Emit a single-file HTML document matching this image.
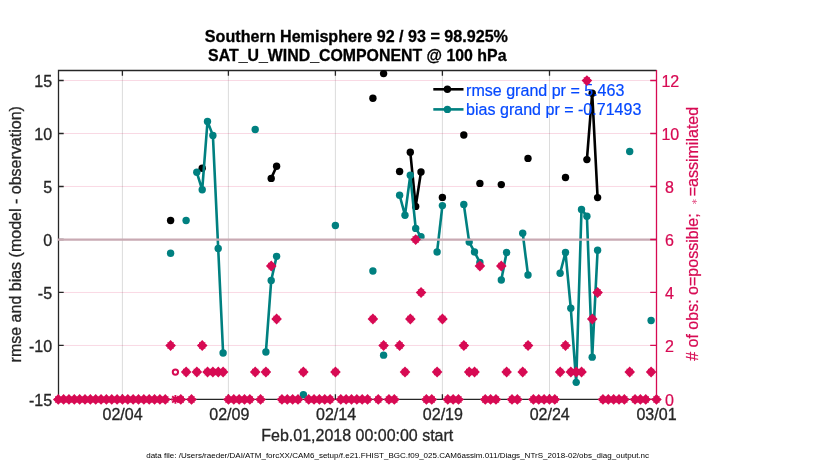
<!DOCTYPE html>
<html lang="en">
<head>
<meta charset="utf-8">
<title>SAT_U_WIND_COMPONENT rmse and bias evolution</title>
<style>
html,body{margin:0;padding:0;background:#fff;}
body{width:830px;height:470px;overflow:hidden;}
svg{display:block;}
text{font-family:"Liberation Sans",Arial,Helvetica,sans-serif;font-size:16px;fill:#262626;stroke:#262626;stroke-width:0.3px;}
.t{font-size:16.05px;}
.b{font-weight:bold;fill:#000;stroke:#000;stroke-width:0.3px;}
.c{fill:#d70a53;stroke:#d70a53;stroke-width:0.22px;}
.l{fill:#0549ff;stroke:#0549ff;font-size:16.05px;stroke-width:0.2px;}
.s{font-size:8.035px;fill:#000;stroke:none;}
</style>
</head>
<body>
<svg width="830" height="470" viewBox="0 0 830 470">
<rect x="0" y="0" width="830" height="470" fill="#fff"/>
<g transform="scale(1,0.9999)">
<g stroke="#dcdcdc" stroke-width="1"><line x1="122.4" y1="70.5" x2="122.4" y2="399.4"/><line x1="228.4" y1="70.5" x2="228.4" y2="399.4"/><line x1="335.4" y1="70.5" x2="335.4" y2="399.4"/><line x1="442.4" y1="70.5" x2="442.4" y2="399.4"/><line x1="549.5" y1="70.5" x2="549.5" y2="399.4"/></g>
<g stroke="#d70a53" stroke-opacity="0.16" stroke-width="1"><line x1="58.5" y1="345.5" x2="656.5" y2="345.5"/><line x1="58.5" y1="292.5" x2="656.5" y2="292.5"/><line x1="58.5" y1="239.5" x2="656.5" y2="239.5"/><line x1="58.5" y1="186.5" x2="656.5" y2="186.5"/><line x1="58.5" y1="133.5" x2="656.5" y2="133.5"/><line x1="58.5" y1="80.5" x2="656.5" y2="80.5"/></g>
<path d="M656.5,70.5 L58.5,70.5 L58.5,399.4 M58.5,399.4 L656.5,399.4" fill="none" stroke="#262626" stroke-width="1.3"/>
<path d="M58.5,399.4 h5.2 M58.5,345.5 h5.2 M58.5,292.5 h5.2 M58.5,239.5 h5.2 M58.5,186.5 h5.2 M58.5,133.5 h5.2 M58.5,80.5 h5.2 M122.4,399.4 v-5.2 M122.4,70.5 v5.2 M228.4,399.4 v-5.2 M228.4,70.5 v5.2 M335.4,399.4 v-5.2 M335.4,70.5 v5.2 M442.4,399.4 v-5.2 M442.4,70.5 v5.2 M549.5,399.4 v-5.2 M549.5,70.5 v5.2" fill="none" stroke="#262626" stroke-width="1.3"/>
<polyline points="271.2,178.4 276.6,166.3" fill="none" stroke="#000" stroke-width="2.6" stroke-linejoin="round"/>
<polyline points="410.3,152.3 415.7,206.4 421.0,172.0" fill="none" stroke="#000" stroke-width="2.6" stroke-linejoin="round"/>
<polyline points="586.9,159.6 592.2,93.2 597.6,197.6" fill="none" stroke="#000" stroke-width="2.6" stroke-linejoin="round"/>
<circle cx="170.6" cy="220.5" r="3.7" fill="#000"/>
<circle cx="202.2" cy="168.2" r="3.7" fill="#000"/>
<circle cx="271.2" cy="178.4" r="3.7" fill="#000"/>
<circle cx="276.6" cy="166.3" r="3.7" fill="#000"/>
<circle cx="372.9" cy="98.3" r="3.7" fill="#000"/>
<circle cx="383.6" cy="73.6" r="3.7" fill="#000"/>
<circle cx="399.6" cy="171.5" r="3.7" fill="#000"/>
<circle cx="410.3" cy="152.3" r="3.7" fill="#000"/>
<circle cx="415.7" cy="206.4" r="3.7" fill="#000"/>
<circle cx="421.0" cy="172.0" r="3.7" fill="#000"/>
<circle cx="442.4" cy="197.4" r="3.7" fill="#000"/>
<circle cx="463.8" cy="135.0" r="3.7" fill="#000"/>
<circle cx="479.9" cy="183.4" r="3.7" fill="#000"/>
<circle cx="501.3" cy="184.6" r="3.7" fill="#000"/>
<circle cx="528.0" cy="158.4" r="3.7" fill="#000"/>
<circle cx="565.5" cy="177.5" r="3.7" fill="#000"/>
<circle cx="586.9" cy="159.6" r="3.7" fill="#000"/>
<circle cx="592.2" cy="93.2" r="3.7" fill="#000"/>
<circle cx="597.6" cy="197.6" r="3.7" fill="#000"/>
<polyline points="196.8,172.3 202.2,189.8 207.5,121.5 212.9,135.4 218.2,248.4 223.1,353.0" fill="none" stroke="#008080" stroke-width="2.6" stroke-linejoin="round"/>
<polyline points="265.9,352.1 271.2,280.6 276.6,256.4" fill="none" stroke="#008080" stroke-width="2.6" stroke-linejoin="round"/>
<polyline points="399.6,195.3 405.0,215.2 410.3,175.3 415.7,228.4 421.0,236.7" fill="none" stroke="#008080" stroke-width="2.6" stroke-linejoin="round"/>
<polyline points="437.1,252.0 442.4,205.6" fill="none" stroke="#008080" stroke-width="2.6" stroke-linejoin="round"/>
<polyline points="463.8,204.4 469.2,242.1 474.5,252.0 479.9,262.6" fill="none" stroke="#008080" stroke-width="2.6" stroke-linejoin="round"/>
<polyline points="501.3,280.0 506.6,252.5" fill="none" stroke="#008080" stroke-width="2.6" stroke-linejoin="round"/>
<polyline points="522.7,233.2 528.0,275.0" fill="none" stroke="#008080" stroke-width="2.6" stroke-linejoin="round"/>
<polyline points="560.1,273.3 565.5,252.5 570.8,308.3 576.2,382.4 581.5,209.4 586.9,216.2 592.2,357.2 597.6,250.3" fill="none" stroke="#008080" stroke-width="2.6" stroke-linejoin="round"/>
<circle cx="170.6" cy="253.3" r="3.7" fill="#008080"/>
<circle cx="186.1" cy="220.5" r="3.7" fill="#008080"/>
<circle cx="196.8" cy="172.3" r="3.7" fill="#008080"/>
<circle cx="202.2" cy="189.8" r="3.7" fill="#008080"/>
<circle cx="207.5" cy="121.5" r="3.7" fill="#008080"/>
<circle cx="212.9" cy="135.4" r="3.7" fill="#008080"/>
<circle cx="218.2" cy="248.4" r="3.7" fill="#008080"/>
<circle cx="223.1" cy="353.0" r="3.7" fill="#008080"/>
<circle cx="255.2" cy="129.5" r="3.7" fill="#008080"/>
<circle cx="265.9" cy="352.1" r="3.7" fill="#008080"/>
<circle cx="271.2" cy="280.6" r="3.7" fill="#008080"/>
<circle cx="276.6" cy="256.4" r="3.7" fill="#008080"/>
<circle cx="303.4" cy="394.7" r="3.7" fill="#008080"/>
<circle cx="335.4" cy="225.5" r="3.7" fill="#008080"/>
<circle cx="372.9" cy="271.1" r="3.7" fill="#008080"/>
<circle cx="383.6" cy="355.2" r="3.7" fill="#008080"/>
<circle cx="399.6" cy="195.3" r="3.7" fill="#008080"/>
<circle cx="405.0" cy="215.2" r="3.7" fill="#008080"/>
<circle cx="410.3" cy="175.3" r="3.7" fill="#008080"/>
<circle cx="415.7" cy="228.4" r="3.7" fill="#008080"/>
<circle cx="421.0" cy="236.7" r="3.7" fill="#008080"/>
<circle cx="437.1" cy="252.0" r="3.7" fill="#008080"/>
<circle cx="442.4" cy="205.6" r="3.7" fill="#008080"/>
<circle cx="463.8" cy="204.4" r="3.7" fill="#008080"/>
<circle cx="469.2" cy="242.1" r="3.7" fill="#008080"/>
<circle cx="474.5" cy="252.0" r="3.7" fill="#008080"/>
<circle cx="479.9" cy="262.6" r="3.7" fill="#008080"/>
<circle cx="501.3" cy="280.0" r="3.7" fill="#008080"/>
<circle cx="506.6" cy="252.5" r="3.7" fill="#008080"/>
<circle cx="522.7" cy="233.2" r="3.7" fill="#008080"/>
<circle cx="528.0" cy="275.0" r="3.7" fill="#008080"/>
<circle cx="560.1" cy="273.3" r="3.7" fill="#008080"/>
<circle cx="565.5" cy="252.5" r="3.7" fill="#008080"/>
<circle cx="570.8" cy="308.3" r="3.7" fill="#008080"/>
<circle cx="576.2" cy="382.4" r="3.7" fill="#008080"/>
<circle cx="581.5" cy="209.4" r="3.7" fill="#008080"/>
<circle cx="586.9" cy="216.2" r="3.7" fill="#008080"/>
<circle cx="592.2" cy="357.2" r="3.7" fill="#008080"/>
<circle cx="597.6" cy="250.3" r="3.7" fill="#008080"/>
<circle cx="629.7" cy="151.5" r="3.7" fill="#008080"/>
<circle cx="651.1" cy="320.6" r="3.7" fill="#008080"/>
<line x1="57.9" y1="239.6" x2="656.5" y2="239.6" stroke="#c9aab3" stroke-width="2.2"/>
<line x1="433.3" y1="89.3" x2="463.5" y2="89.3" stroke="#000" stroke-width="2.6"/><circle cx="447.4" cy="89.3" r="3.7" fill="#000"/>
<line x1="433.3" y1="109.4" x2="463.5" y2="109.4" stroke="#008080" stroke-width="2.6"/><circle cx="447.4" cy="109.4" r="3.7" fill="#008080"/>
<text class="l" transform="translate(466.1,95.6) scale(1,0.999)">rmse grand pr = 5.463</text>
<text class="l" transform="translate(466.1,114.9) scale(1,0.999)">bias grand pr = -0.71493</text>
<line x1="656.5" y1="69.9" x2="656.5" y2="400.0" stroke="#d70a53" stroke-width="1.3"/>
<path d="M656.5,399.4 h-6.3 M656.5,345.5 h-6.3 M656.5,292.5 h-6.3 M656.5,239.5 h-6.3 M656.5,186.5 h-6.3 M656.5,133.5 h-6.3 M656.5,80.5 h-6.3" fill="none" stroke="#d70a53" stroke-width="1.3"/>
<path fill="#d70a53" d="M58.25,394.10l5.3,5.4l-5.3,5.4l-5.3,-5.4zM55.05,396.30h6.4v6.4h-6.4z M63.60,394.10l5.3,5.4l-5.3,5.4l-5.3,-5.4zM60.40,396.30h6.4v6.4h-6.4z M68.95,394.10l5.3,5.4l-5.3,5.4l-5.3,-5.4zM65.75,396.30h6.4v6.4h-6.4z M74.30,394.10l5.3,5.4l-5.3,5.4l-5.3,-5.4zM71.10,396.30h6.4v6.4h-6.4z M79.65,394.10l5.3,5.4l-5.3,5.4l-5.3,-5.4zM76.45,396.30h6.4v6.4h-6.4z M85.00,394.10l5.3,5.4l-5.3,5.4l-5.3,-5.4zM81.80,396.30h6.4v6.4h-6.4z M90.35,394.10l5.3,5.4l-5.3,5.4l-5.3,-5.4zM87.15,396.30h6.4v6.4h-6.4z M95.70,394.10l5.3,5.4l-5.3,5.4l-5.3,-5.4zM92.50,396.30h6.4v6.4h-6.4z M101.05,394.10l5.3,5.4l-5.3,5.4l-5.3,-5.4zM97.85,396.30h6.4v6.4h-6.4z M106.40,394.10l5.3,5.4l-5.3,5.4l-5.3,-5.4zM103.20,396.30h6.4v6.4h-6.4z M111.75,394.10l5.3,5.4l-5.3,5.4l-5.3,-5.4zM108.55,396.30h6.4v6.4h-6.4z M117.10,394.10l5.3,5.4l-5.3,5.4l-5.3,-5.4zM113.90,396.30h6.4v6.4h-6.4z M122.45,394.10l5.3,5.4l-5.3,5.4l-5.3,-5.4zM119.25,396.30h6.4v6.4h-6.4z M127.80,394.10l5.3,5.4l-5.3,5.4l-5.3,-5.4zM124.60,396.30h6.4v6.4h-6.4z M133.15,394.10l5.3,5.4l-5.3,5.4l-5.3,-5.4zM129.95,396.30h6.4v6.4h-6.4z M138.50,394.10l5.3,5.4l-5.3,5.4l-5.3,-5.4zM135.30,396.30h6.4v6.4h-6.4z M143.85,394.10l5.3,5.4l-5.3,5.4l-5.3,-5.4zM140.65,396.30h6.4v6.4h-6.4z M149.20,394.10l5.3,5.4l-5.3,5.4l-5.3,-5.4zM146.00,396.30h6.4v6.4h-6.4z M154.55,394.10l5.3,5.4l-5.3,5.4l-5.3,-5.4zM151.35,396.30h6.4v6.4h-6.4z M159.90,394.10l5.3,5.4l-5.3,5.4l-5.3,-5.4zM156.70,396.30h6.4v6.4h-6.4z M165.25,394.10l5.3,5.4l-5.3,5.4l-5.3,-5.4zM162.05,396.30h6.4v6.4h-6.4z M170.60,340.15l5.3,5.4l-5.3,5.4l-5.3,-5.4zM167.40,342.35h6.4v6.4h-6.4z M180.80,394.10l5.3,5.4l-5.3,5.4l-5.3,-5.4zM177.60,396.30h6.4v6.4h-6.4z M186.15,366.65l5.3,5.4l-5.3,5.4l-5.3,-5.4zM182.95,368.85h6.4v6.4h-6.4z M191.50,394.10l5.3,5.4l-5.3,5.4l-5.3,-5.4zM188.30,396.30h6.4v6.4h-6.4z M196.85,366.65l5.3,5.4l-5.3,5.4l-5.3,-5.4zM193.65,368.85h6.4v6.4h-6.4z M202.20,340.15l5.3,5.4l-5.3,5.4l-5.3,-5.4zM199.00,342.35h6.4v6.4h-6.4z M207.55,366.65l5.3,5.4l-5.3,5.4l-5.3,-5.4zM204.35,368.85h6.4v6.4h-6.4z M212.90,366.65l5.3,5.4l-5.3,5.4l-5.3,-5.4zM209.70,368.85h6.4v6.4h-6.4z M218.25,366.65l5.3,5.4l-5.3,5.4l-5.3,-5.4zM215.05,368.85h6.4v6.4h-6.4z M223.10,366.65l5.3,5.4l-5.3,5.4l-5.3,-5.4zM219.90,368.85h6.4v6.4h-6.4z M228.45,394.10l5.3,5.4l-5.3,5.4l-5.3,-5.4zM225.25,396.30h6.4v6.4h-6.4z M233.80,394.10l5.3,5.4l-5.3,5.4l-5.3,-5.4zM230.60,396.30h6.4v6.4h-6.4z M239.15,394.10l5.3,5.4l-5.3,5.4l-5.3,-5.4zM235.95,396.30h6.4v6.4h-6.4z M244.50,394.10l5.3,5.4l-5.3,5.4l-5.3,-5.4zM241.30,396.30h6.4v6.4h-6.4z M249.85,394.10l5.3,5.4l-5.3,5.4l-5.3,-5.4zM246.65,396.30h6.4v6.4h-6.4z M255.20,366.65l5.3,5.4l-5.3,5.4l-5.3,-5.4zM252.00,368.85h6.4v6.4h-6.4z M260.55,394.10l5.3,5.4l-5.3,5.4l-5.3,-5.4zM257.35,396.30h6.4v6.4h-6.4z M265.90,366.65l5.3,5.4l-5.3,5.4l-5.3,-5.4zM262.70,368.85h6.4v6.4h-6.4z M271.25,260.65l5.3,5.4l-5.3,5.4l-5.3,-5.4zM268.05,262.85h6.4v6.4h-6.4z M276.60,313.65l5.3,5.4l-5.3,5.4l-5.3,-5.4zM273.40,315.85h6.4v6.4h-6.4z M281.95,394.10l5.3,5.4l-5.3,5.4l-5.3,-5.4zM278.75,396.30h6.4v6.4h-6.4z M287.30,394.10l5.3,5.4l-5.3,5.4l-5.3,-5.4zM284.10,396.30h6.4v6.4h-6.4z M292.65,394.10l5.3,5.4l-5.3,5.4l-5.3,-5.4zM289.45,396.30h6.4v6.4h-6.4z M298.00,394.10l5.3,5.4l-5.3,5.4l-5.3,-5.4zM294.80,396.30h6.4v6.4h-6.4z M303.35,366.65l5.3,5.4l-5.3,5.4l-5.3,-5.4zM300.15,368.85h6.4v6.4h-6.4z M308.70,394.10l5.3,5.4l-5.3,5.4l-5.3,-5.4zM305.50,396.30h6.4v6.4h-6.4z M314.05,394.10l5.3,5.4l-5.3,5.4l-5.3,-5.4zM310.85,396.30h6.4v6.4h-6.4z M319.40,394.10l5.3,5.4l-5.3,5.4l-5.3,-5.4zM316.20,396.30h6.4v6.4h-6.4z M324.75,394.10l5.3,5.4l-5.3,5.4l-5.3,-5.4zM321.55,396.30h6.4v6.4h-6.4z M330.10,394.10l5.3,5.4l-5.3,5.4l-5.3,-5.4zM326.90,396.30h6.4v6.4h-6.4z M335.45,366.65l5.3,5.4l-5.3,5.4l-5.3,-5.4zM332.25,368.85h6.4v6.4h-6.4z M340.80,394.10l5.3,5.4l-5.3,5.4l-5.3,-5.4zM337.60,396.30h6.4v6.4h-6.4z M346.15,394.10l5.3,5.4l-5.3,5.4l-5.3,-5.4zM342.95,396.30h6.4v6.4h-6.4z M351.50,394.10l5.3,5.4l-5.3,5.4l-5.3,-5.4zM348.30,396.30h6.4v6.4h-6.4z M356.85,394.10l5.3,5.4l-5.3,5.4l-5.3,-5.4zM353.65,396.30h6.4v6.4h-6.4z M362.20,394.10l5.3,5.4l-5.3,5.4l-5.3,-5.4zM359.00,396.30h6.4v6.4h-6.4z M367.55,394.10l5.3,5.4l-5.3,5.4l-5.3,-5.4zM364.35,396.30h6.4v6.4h-6.4z M372.90,313.65l5.3,5.4l-5.3,5.4l-5.3,-5.4zM369.70,315.85h6.4v6.4h-6.4z M378.25,394.10l5.3,5.4l-5.3,5.4l-5.3,-5.4zM375.05,396.30h6.4v6.4h-6.4z M383.60,340.15l5.3,5.4l-5.3,5.4l-5.3,-5.4zM380.40,342.35h6.4v6.4h-6.4z M388.95,394.10l5.3,5.4l-5.3,5.4l-5.3,-5.4zM385.75,396.30h6.4v6.4h-6.4z M394.30,394.10l5.3,5.4l-5.3,5.4l-5.3,-5.4zM391.10,396.30h6.4v6.4h-6.4z M399.65,340.15l5.3,5.4l-5.3,5.4l-5.3,-5.4zM396.45,342.35h6.4v6.4h-6.4z M405.00,366.65l5.3,5.4l-5.3,5.4l-5.3,-5.4zM401.80,368.85h6.4v6.4h-6.4z M410.35,313.65l5.3,5.4l-5.3,5.4l-5.3,-5.4zM407.15,315.85h6.4v6.4h-6.4z M415.70,234.15l5.3,5.4l-5.3,5.4l-5.3,-5.4zM412.50,236.35h6.4v6.4h-6.4z M421.05,287.15l5.3,5.4l-5.3,5.4l-5.3,-5.4zM417.85,289.35h6.4v6.4h-6.4z M426.40,394.10l5.3,5.4l-5.3,5.4l-5.3,-5.4zM423.20,396.30h6.4v6.4h-6.4z M431.75,394.10l5.3,5.4l-5.3,5.4l-5.3,-5.4zM428.55,396.30h6.4v6.4h-6.4z M437.10,366.65l5.3,5.4l-5.3,5.4l-5.3,-5.4zM433.90,368.85h6.4v6.4h-6.4z M442.45,313.65l5.3,5.4l-5.3,5.4l-5.3,-5.4zM439.25,315.85h6.4v6.4h-6.4z M447.80,394.10l5.3,5.4l-5.3,5.4l-5.3,-5.4zM444.60,396.30h6.4v6.4h-6.4z M453.15,394.10l5.3,5.4l-5.3,5.4l-5.3,-5.4zM449.95,396.30h6.4v6.4h-6.4z M458.50,394.10l5.3,5.4l-5.3,5.4l-5.3,-5.4zM455.30,396.30h6.4v6.4h-6.4z M463.85,340.15l5.3,5.4l-5.3,5.4l-5.3,-5.4zM460.65,342.35h6.4v6.4h-6.4z M469.20,366.65l5.3,5.4l-5.3,5.4l-5.3,-5.4zM466.00,368.85h6.4v6.4h-6.4z M474.55,366.65l5.3,5.4l-5.3,5.4l-5.3,-5.4zM471.35,368.85h6.4v6.4h-6.4z M479.90,260.65l5.3,5.4l-5.3,5.4l-5.3,-5.4zM476.70,262.85h6.4v6.4h-6.4z M485.25,394.10l5.3,5.4l-5.3,5.4l-5.3,-5.4zM482.05,396.30h6.4v6.4h-6.4z M490.60,394.10l5.3,5.4l-5.3,5.4l-5.3,-5.4zM487.40,396.30h6.4v6.4h-6.4z M495.95,394.10l5.3,5.4l-5.3,5.4l-5.3,-5.4zM492.75,396.30h6.4v6.4h-6.4z M501.30,260.65l5.3,5.4l-5.3,5.4l-5.3,-5.4zM498.10,262.85h6.4v6.4h-6.4z M506.65,366.65l5.3,5.4l-5.3,5.4l-5.3,-5.4zM503.45,368.85h6.4v6.4h-6.4z M512.00,394.10l5.3,5.4l-5.3,5.4l-5.3,-5.4zM508.80,396.30h6.4v6.4h-6.4z M517.35,394.10l5.3,5.4l-5.3,5.4l-5.3,-5.4zM514.15,396.30h6.4v6.4h-6.4z M522.70,366.65l5.3,5.4l-5.3,5.4l-5.3,-5.4zM519.50,368.85h6.4v6.4h-6.4z M528.05,340.15l5.3,5.4l-5.3,5.4l-5.3,-5.4zM524.85,342.35h6.4v6.4h-6.4z M533.40,394.10l5.3,5.4l-5.3,5.4l-5.3,-5.4zM530.20,396.30h6.4v6.4h-6.4z M538.75,394.10l5.3,5.4l-5.3,5.4l-5.3,-5.4zM535.55,396.30h6.4v6.4h-6.4z M544.10,394.10l5.3,5.4l-5.3,5.4l-5.3,-5.4zM540.90,396.30h6.4v6.4h-6.4z M549.45,394.10l5.3,5.4l-5.3,5.4l-5.3,-5.4zM546.25,396.30h6.4v6.4h-6.4z M554.80,394.10l5.3,5.4l-5.3,5.4l-5.3,-5.4zM551.60,396.30h6.4v6.4h-6.4z M560.15,366.65l5.3,5.4l-5.3,5.4l-5.3,-5.4zM556.95,368.85h6.4v6.4h-6.4z M565.50,340.15l5.3,5.4l-5.3,5.4l-5.3,-5.4zM562.30,342.35h6.4v6.4h-6.4z M570.85,366.65l5.3,5.4l-5.3,5.4l-5.3,-5.4zM567.65,368.85h6.4v6.4h-6.4z M576.20,366.65l5.3,5.4l-5.3,5.4l-5.3,-5.4zM573.00,368.85h6.4v6.4h-6.4z M581.55,366.65l5.3,5.4l-5.3,5.4l-5.3,-5.4zM578.35,368.85h6.4v6.4h-6.4z M586.90,75.15l5.3,5.4l-5.3,5.4l-5.3,-5.4zM583.70,77.35h6.4v6.4h-6.4z M592.25,313.65l5.3,5.4l-5.3,5.4l-5.3,-5.4zM589.05,315.85h6.4v6.4h-6.4z M597.60,287.15l5.3,5.4l-5.3,5.4l-5.3,-5.4zM594.40,289.35h6.4v6.4h-6.4z M602.95,394.10l5.3,5.4l-5.3,5.4l-5.3,-5.4zM599.75,396.30h6.4v6.4h-6.4z M608.30,394.10l5.3,5.4l-5.3,5.4l-5.3,-5.4zM605.10,396.30h6.4v6.4h-6.4z M613.65,394.10l5.3,5.4l-5.3,5.4l-5.3,-5.4zM610.45,396.30h6.4v6.4h-6.4z M619.00,394.10l5.3,5.4l-5.3,5.4l-5.3,-5.4zM615.80,396.30h6.4v6.4h-6.4z M624.35,394.10l5.3,5.4l-5.3,5.4l-5.3,-5.4zM621.15,396.30h6.4v6.4h-6.4z M629.70,366.65l5.3,5.4l-5.3,5.4l-5.3,-5.4zM626.50,368.85h6.4v6.4h-6.4z M635.05,394.10l5.3,5.4l-5.3,5.4l-5.3,-5.4zM631.85,396.30h6.4v6.4h-6.4z M640.40,394.10l5.3,5.4l-5.3,5.4l-5.3,-5.4zM637.20,396.30h6.4v6.4h-6.4z M645.75,394.10l5.3,5.4l-5.3,5.4l-5.3,-5.4zM642.55,396.30h6.4v6.4h-6.4z M651.10,366.65l5.3,5.4l-5.3,5.4l-5.3,-5.4zM647.90,368.85h6.4v6.4h-6.4z M656.45,394.10l5.3,5.4l-5.3,5.4l-5.3,-5.4zM653.25,396.30h6.4v6.4h-6.4z"/>
<circle cx="175.4" cy="372.1" r="2.65" fill="none" stroke="#d70a53" stroke-width="2"/>
<g transform="translate(175.4,399.5)" stroke="#d70a53" stroke-width="1.9" fill="none"><path d="M0,-4.4 V4.4 M-4.4,0 H4.4 M-3.2,-3.2 L3.2,3.2 M-3.2,3.2 L3.2,-3.2"/><circle r="2.2" fill="#d70a53" stroke="none"/></g>
<text class="t" x="52.1" y="405.9" text-anchor="end">-15</text>
<text class="c t" x="665.1" y="405.9">0</text>
<text class="t" x="52.1" y="352.0" text-anchor="end">-10</text>
<text class="c t" x="665.1" y="352.0">2</text>
<text class="t" x="52.1" y="299.0" text-anchor="end">-5</text>
<text class="c t" x="665.1" y="299.0">4</text>
<text class="t" x="52.1" y="246.0" text-anchor="end">0</text>
<text class="c t" x="665.1" y="246.0">6</text>
<text class="t" x="52.1" y="193.0" text-anchor="end">5</text>
<text class="c t" x="665.1" y="193.0">8</text>
<text class="t" x="52.1" y="140.0" text-anchor="end">10</text>
<text class="c t" x="661.4" y="140.0">10</text>
<text class="t" x="52.1" y="87.0" text-anchor="end">15</text>
<text class="c t" x="661.4" y="87.0">12</text>
<text class="t" x="122.6" y="419.8" text-anchor="middle">02/04</text>
<text class="t" x="229.3" y="419.8" text-anchor="middle">02/09</text>
<text class="t" x="336.1" y="419.8" text-anchor="middle">02/14</text>
<text class="t" x="442.9" y="419.8" text-anchor="middle">02/19</text>
<text class="t" x="549.7" y="419.8" text-anchor="middle">02/24</text>
<text class="t" x="656.5" y="419.8" text-anchor="middle">03/01</text>
<text class="b" x="356.4" y="41.7" text-anchor="middle" style="font-size:16.12px">Southern Hemisphere 92 / 93 = 98.925%</text>
<text class="b" x="357.3" y="61.5" text-anchor="middle" style="font-size:15.9px">SAT_U_WIND_COMPONENT @ 100 hPa</text>
<text x="357.3" y="440.8" text-anchor="middle">Feb.01,2018 00:00:00 start</text>
<text transform="translate(21,234.3) rotate(-90)" text-anchor="middle" style="font-size:16.04px">rmse and bias (model - observation)</text>
<text class="c t" transform="translate(697.6,360.9) rotate(-90)"># of obs: o=possible;</text>
<text class="c" transform="translate(696.6,202) rotate(-90)" text-anchor="middle" style="font-size:8.5px;stroke:none" fill-opacity="0.7">&#x2217;</text>
<text class="c t" transform="translate(697.6,106.8) rotate(-90)" text-anchor="end">=assimilated</text>
<text class="s" x="146.2" y="458">data file: /Users/raeder/DAI/ATM_forcXX/CAM6_setup/f.e21.FHIST_BGC.f09_025.CAM6assim.011/Diags_NTrS_2018-02/obs_diag_output.nc</text>
</g>
</svg>
</body>
</html>
